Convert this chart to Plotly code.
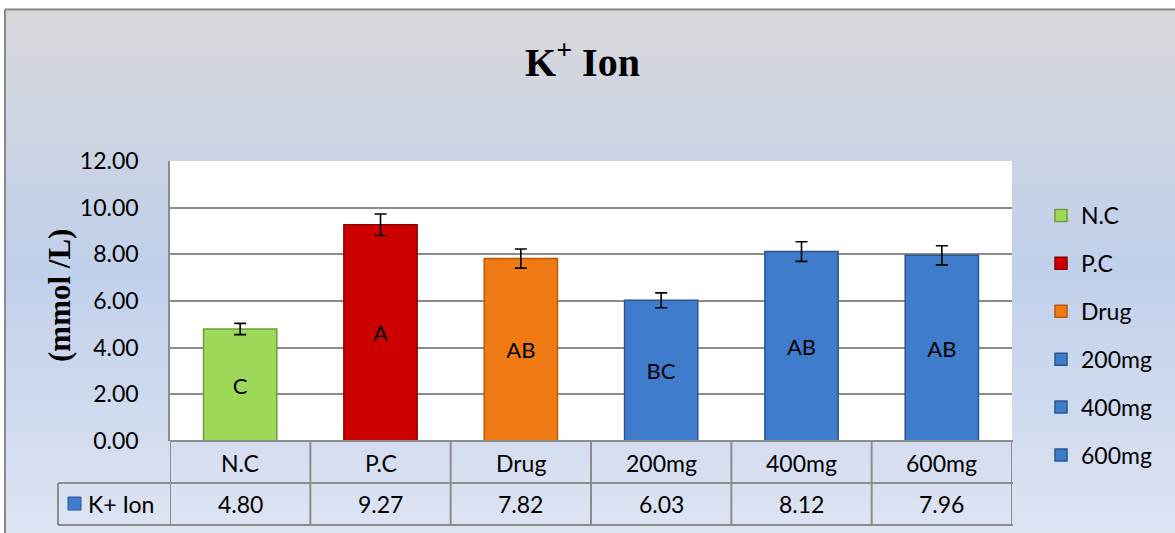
import plotly.graph_objects as go

# ---------------- data ----------------
categories = ["N.C", "P.C", "Drug", "200mg", "400mg", "600mg"]
values = [4.80, 9.27, 7.82, 6.03, 8.12, 7.96]
errors = [0.24, 0.46, 0.41, 0.32, 0.42, 0.41]
letters = ["C", "A", "AB", "BC", "AB", "AB"]
value_labels = ["4.80", "9.27", "7.82", "6.03", "8.12", "7.96"]
series_name = "K+ Ion"
y_ticks = [0, 2, 4, 6, 8, 10, 12]

# ---------------- styles ----------------
fill_colors = ["#9ed95a", "#cc0000", "#f07a14", "#3f7dcc", "#3f7dcc", "#3f7dcc"]
line_colors = ["#6f9e38", "#8e0000", "#b95a0a", "#2a5592", "#2a5592", "#2a5592"]

W, H = 1175, 533
L, R, T, B = 170, 1012, 161, 441  # plot area pixel box
FONT = "Lato"
SERIF = "Liberation Serif"
GRID = "#8c8c8c"
FS = 23


def px(xp):
    return (xp - L) / (R - L)


def py(yp):
    return (B - yp) / (B - T)


fig = go.Figure()
for i, cat in enumerate(categories):
    fig.add_trace(go.Bar(
        x=[cat], y=[values[i]], name=cat, legendgroup=cat,
        marker=dict(color=fill_colors[i], line=dict(color=line_colors[i], width=1.5)),
        error_y=dict(type="data", array=[errors[i]], visible=True,
                     color="black", thickness=1.6, width=6),
        text=[letters[i]], textposition="inside", insidetextanchor="middle",
        textangle=0, constraintext="none",
        insidetextfont=dict(family=FONT, size=22, color="black"),
        hoverinfo="skip",
    ))

shapes = []
# background gradient (chart area) drawn as thin strips
stops = [(9, (216, 216, 218)), (270, (193, 208, 235)), (533, (222, 228, 242))]


def grad(yp):
    for (y0, c0), (y1, c1) in zip(stops[:-1], stops[1:]):
        if y0 <= yp <= y1:
            t = (yp - y0) / (y1 - y0)
            return tuple(round(c0[k] + (c1[k] - c0[k]) * t) for k in range(3))
    return stops[-1][1]


n = 100
y_top = 9
for k in range(n):
    a = y_top + (H - y_top) * k / n
    b = y_top + (H - y_top) * (k + 1) / n
    c = grad((a + b) / 2)
    shapes.append(dict(type="rect", xref="paper", yref="paper", layer="below",
                       x0=px(5), x1=px(W + 5), y0=py(a - 0.5), y1=py(b + 0.5),
                       fillcolor="rgb(%d,%d,%d)" % c, line=dict(width=0)))
# white plot area
shapes.append(dict(type="rect", xref="paper", yref="paper", layer="below",
                   x0=0, x1=1, y0=0, y1=1, fillcolor="white", line=dict(width=0)))
# outer chart border (top/left)
shapes.append(dict(type="line", xref="paper", yref="paper", x0=px(5), x1=px(W + 5),
                   y0=py(9.5), y1=py(9.5), line=dict(color="#8a8a8a", width=2)))
shapes.append(dict(type="line", xref="paper", yref="paper", x0=px(5), x1=px(5),
                   y0=py(9.5), y1=py(H + 5), line=dict(color="#8a8a8a", width=2)))

# data table lines
row1, row2, row3 = 441, 483, 525
tbl_left = 58
for yy, x0 in [(row1, L), (row2, tbl_left), (row3, tbl_left)]:
    shapes.append(dict(type="line", xref="paper", yref="paper", x0=px(x0), x1=px(R + 1),
                       y0=py(yy), y1=py(yy), line=dict(color=GRID, width=2)))
for j in range(len(categories) + 1):
    shapes.append(dict(type="line", xref="x", yref="paper", x0=j - 0.5, x1=j - 0.5,
                       y0=py(row1), y1=py(row3), line=dict(color=GRID, width=2)))
shapes.append(dict(type="line", xref="paper", yref="paper", x0=px(tbl_left), x1=px(tbl_left),
                   y0=py(row2), y1=py(row3), line=dict(color=GRID, width=2)))
# legend key inside table
shapes.append(dict(type="rect", xref="paper", yref="paper",
                   x0=px(68), x1=px(81), y0=py(510), y1=py(497),
                   fillcolor="#3f7dcc", line=dict(color="#2a5592", width=1)))

annotations = []
for i, cat in enumerate(categories):
    annotations.append(dict(x=cat, y=py((row1 + row2) / 2 + 1), xref="x", yref="paper",
                            xanchor="center", yanchor="middle",
                            text=cat, showarrow=False,
                            font=dict(family=FONT, size=FS, color="black")))
    annotations.append(dict(x=cat, y=py((row2 + row3) / 2), xref="x", yref="paper",
                            xanchor="center", yanchor="middle",
                            text=value_labels[i], showarrow=False,
                            font=dict(family=FONT, size=FS, color="black")))
annotations.append(dict(x=px(86), y=py((row2 + row3) / 2), xref="paper", yref="paper",
                        xanchor="left", yanchor="middle", text=series_name, showarrow=False,
                        font=dict(family=FONT, size=FS, color="black")))
# title
annotations.append(dict(x=px(582), y=py(60), xref="paper", yref="paper",
                        xanchor="center", yanchor="middle",
                        text="<b>K<sup>+</sup> Ion</b>", showarrow=False,
                        font=dict(family=SERIF, size=40, color="black")))
# y axis title
annotations.append(dict(x=px(59), y=py(296), xref="paper", yref="paper",
                        xanchor="center", yanchor="middle",
                        text="<b>(mmol /L)</b>", showarrow=False, textangle=-90,
                        font=dict(family=SERIF, size=31, color="black")))

fig.update_layout(
    width=W, height=H,
    margin=dict(l=L, r=W - R, t=T, b=H - B, autoexpand=False),
    paper_bgcolor="white", plot_bgcolor="rgba(0,0,0,0)",
    barmode="overlay", bargap=0.478,
    showlegend=True,
    legend=dict(x=px(1041), xanchor="left", y=py(194), yanchor="top",
                font=dict(family=FONT, size=FS, color="black"), maxheight=420,
                bgcolor="rgba(0,0,0,0)", tracegroupgap=15, traceorder="grouped"),
    shapes=shapes, annotations=annotations,
    xaxis=dict(range=[-0.5, len(categories) - 0.5], showticklabels=False, showgrid=False,
               zeroline=False, showline=False, fixedrange=True),
    yaxis=dict(range=[0, 12], tickvals=y_ticks, tickformat=".2f", showgrid=True,
               gridcolor=GRID, gridwidth=1.5, zeroline=False, showline=True,
               linecolor=GRID, linewidth=1.5, ticks="", ticklabelstandoff=25,
               tickfont=dict(family=FONT, size=FS, color="black"), fixedrange=True),
)

fig.write_html("out.html", config={"displayModeBar": False},
               post_script="document.body.style.margin='0px';")
